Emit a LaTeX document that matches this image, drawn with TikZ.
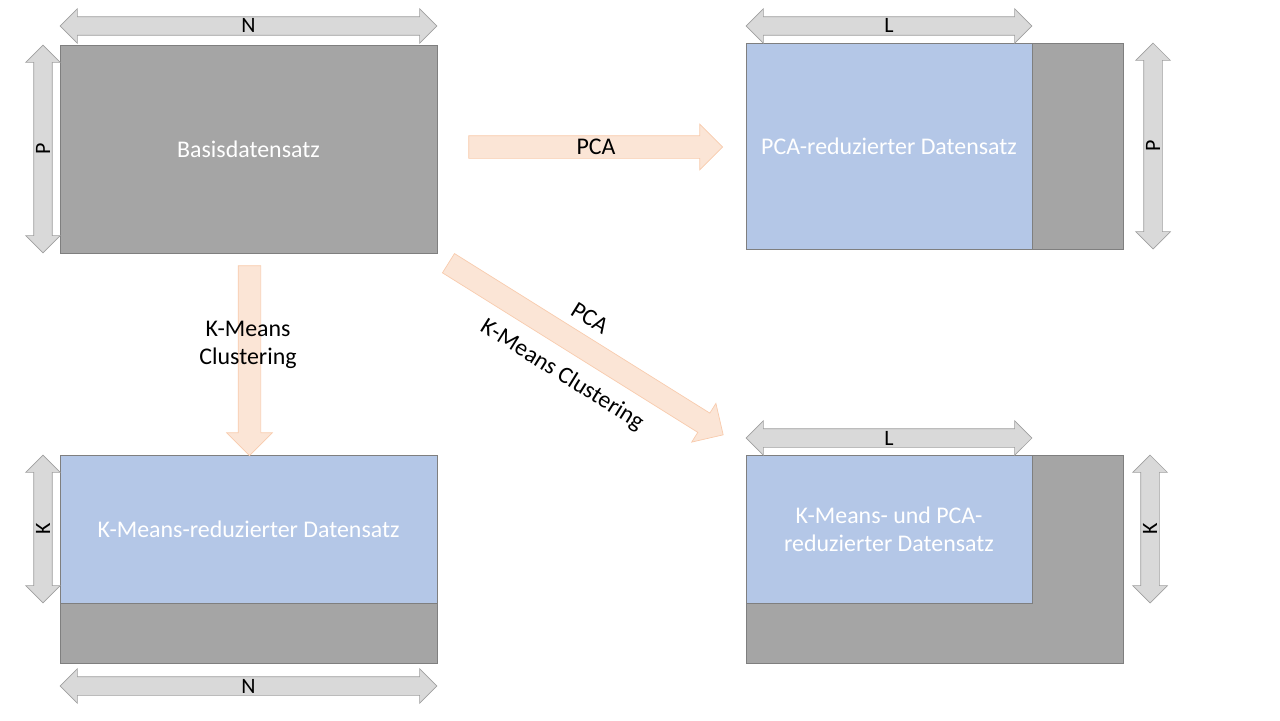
\documentclass[tikz,border=0pt]{standalone}
\usepackage{fontspec}
\setmainfont{Carlito}
\usetikzlibrary{shapes.arrows,positioning}

\definecolor{datgray}{HTML}{A5A5A5}
\definecolor{datblue}{HTML}{B4C7E7}
\definecolor{datline}{HTML}{7F7F7F}
\definecolor{dimfill}{HTML}{D9D9D9}
\definecolor{dimline}{HTML}{A0A0A0}
\definecolor{stepfill}{HTML}{FBE5D6}
\definecolor{stepline}{HTML}{F8CBAD}

\begin{document}
\begin{tikzpicture}[x=0.02cm,y=-0.02cm,
  data/.style={draw=datline,fill=datgray,rectangle,inner sep=0,text=white},
  reduced/.style={data,fill=datblue},
  dim/.style={draw=dimline,fill=dimfill,double arrow,inner sep=0,text height=0.32cm,text depth=0.04cm,double arrow head extend=0.16cm,double arrow head indent=0,small},
  flow/.style={draw=stepline,fill=stepfill,single arrow,inner xsep=0,inner ysep=0.22cm,text height=0,text depth=0,single arrow head extend=0.23cm},
  big/.style={font=\fontsize{13.6}{16}\selectfont},
  small/.style={font=\fontsize{12.5}{14}\selectfont}]
\useasboundingbox (0,0) rectangle (1280,720);

% datasets
\path (248.5,149) node[data,minimum width=7.54cm,minimum height=4.16cm,big] (Basis) {Basisdatensatz};

\path (934.5,146) node[data,minimum width=7.54cm,minimum height=4.12cm] (PCAall) {};
\path (PCAall.north west) node[reduced,anchor=north west,minimum width=5.72cm,minimum height=4.12cm,big] (PCAred) {PCA-reduzierter Datensatz};

\path (248.5,559) node[data,minimum width=7.54cm,minimum height=4.16cm] (KMall) {};
\path (KMall.north west) node[reduced,anchor=north west,minimum width=7.54cm,minimum height=2.96cm,big] (KMred) {K-Means-reduzierter Datensatz};

\path (934.5,559) node[data,minimum width=7.54cm,minimum height=4.16cm] (Bothall) {};
\path (Bothall.north west) node[reduced,anchor=north west,minimum width=5.72cm,minimum height=2.96cm,big,align=center] (Bothred) {K-Means- und PCA-\\reduzierter Datensatz};

% dimensions
\path (248.5,26) node[dim,minimum height=7.54cm] (N1) {N};
\path (43,149) node[dim,rotate=90,minimum height=4.16cm] (P1) {P};
\path (889,26) node[dim,minimum height=5.72cm] (L1) {L};
\path (1153,146) node[dim,rotate=90,minimum height=4.12cm] (P2) {P};
\path (43,529) node[dim,rotate=90,minimum height=2.96cm] (K1) {K};
\path (248.5,686) node[dim,minimum height=7.54cm] (N2) {N};
\path (889,438) node[dim,minimum height=5.72cm] (L2) {L};
\path (1150,529) node[dim,rotate=90,minimum height=2.96cm] (K2) {K};

% steps
\path (590,147) node[flow,minimum height=5.08cm] (Step1) {};
\path (596,147) node[big] (Step1Text) {PCA};

\path (249.5,355) node[flow,rotate=-90,minimum height=3.8cm] (Step2) {};
\path (248,345) node[big,align=center] (Step2Text) {K-Means\\Clustering};

\path (581,346) node[flow,rotate=-32,minimum height=6.48cm] (Step3) {};
\path (590,318) node[big,rotate=-32] (Step3Top) {PCA};
\path (562,375) node[big,rotate=-32] (Step3Bot) {K-Means Clustering};
\end{tikzpicture}
\end{document}
